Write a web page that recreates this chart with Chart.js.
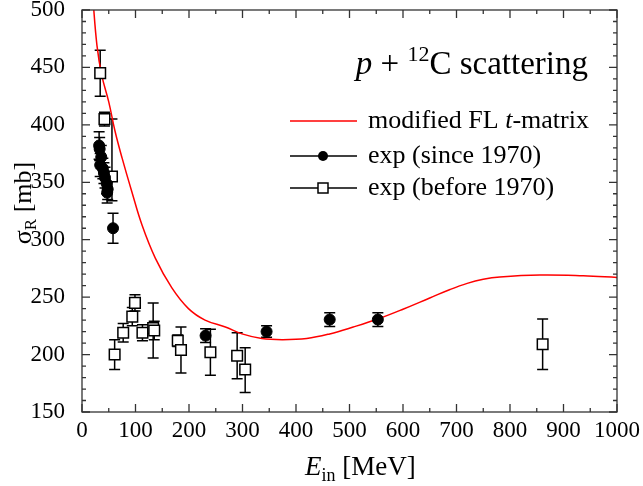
<!DOCTYPE html>
<html lang="en">
<head>
<meta charset="UTF-8">
<title>p + 12C reaction cross section</title>
<script src="https://cdn.jsdelivr.net/npm/chart.js"></script>
<style>
  html, body { margin: 0; padding: 0; background: #fff; }
</style>
</head>
<body>
<canvas id="myChart" width="643" height="486"></canvas>
<script>
// modified FL t-matrix curve (E in MeV, sigma_R in mb)
const curveE     = [20, 28, 37, 50, 62, 75, 93, 112, 137, 168, 199, 230, 268, 299, 336, 374, 420, 463, 507, 553, 600, 650, 688, 720, 750, 781, 856, 937, 1000];
const curveSigma = [512, 469, 443, 420, 394, 371, 342, 313, 284, 258, 240, 230, 224, 218, 214, 213, 214, 218, 224, 231, 239.5, 249.3, 256.7, 262, 265.5, 267.5, 269.2, 268.6, 267.2];

// exp (since 1970)
const newE     = [32, 33, 36, 34, 39, 41, 43, 46, 48, 47, 58, 231, 345, 463, 553];
const newSigma = [382, 379, 372, 365, 362, 358, 354, 349, 344, 341, 310, 216.5, 220, 230.5, 230.5];
const newErr   = [12, 10, 10, 10, 9, 9, 9, 9, 9, 9, 13, 6, 5, 6, 6];

// exp (before 1970)
const oldE     = [34, 42, 56, 61, 77, 94, 99, 113, 133, 135, 179, 185, 240, 290, 305, 861];
const oldSigma = [445, 405, 355, 200, 219, 233, 245, 219, 223, 221, 212, 204, 202, 199, 187, 209];
const oldErrLo = [20, 6, 21, 13, 8, 8, 7, 7, 26, 8, 5, 20, 20, 20, 20, 22];
const oldErrHi = [20, 6, 50, 13, 8, 8, 7, 7, 22, 8, 5, 20, 20, 20, 19, 22];

const xTicks = [0, 100, 200, 300, 400, 500, 600, 700, 800, 900, 1000];
const yTicks = [150, 200, 250, 300, 350, 400, 450, 500];

const serif = "'Liberation Serif', 'Times New Roman', serif";

function pts(xs, ys) {
    return xs.map((x, i) => ({ x: x, y: ys[i] }));
}

const errorBars = {
    id: 'errorBars',
    beforeDatasetsDraw(chart) {
        const ctx = chart.ctx;
        const xs = chart.scales.x, ys = chart.scales.y;
        ctx.save();
        ctx.strokeStyle = '#000';
        ctx.lineWidth = 1.5;
        function bar(e, s, lo, hi) {
            const x = xs.getPixelForValue(e);
            const y1 = ys.getPixelForValue(s - lo);
            const y2 = ys.getPixelForValue(s + hi);
            ctx.beginPath();
            ctx.moveTo(x, y1); ctx.lineTo(x, y2);
            ctx.moveTo(x - 5.5, y1); ctx.lineTo(x + 5.5, y1);
            ctx.moveTo(x - 5.5, y2); ctx.lineTo(x + 5.5, y2);
            ctx.stroke();
        }
        newE.forEach((e, i) => bar(e, newSigma[i], newErr[i], newErr[i]));
        oldE.forEach((e, i) => bar(e, oldSigma[i], oldErrLo[i], oldErrHi[i]));
        ctx.restore();
    }
};

const frame = {
    id: 'frame',
    afterDraw(chart) {
        const ctx = chart.ctx;
        const a = chart.chartArea;
        const xs = chart.scales.x, ys = chart.scales.y;
        ctx.save();
        ctx.strokeStyle = '#333';
        ctx.lineWidth = 1.3;
        ctx.strokeRect(a.left, a.top, a.right - a.left, a.bottom - a.top);

        // inward ticks on all four sides
        ctx.beginPath();
        for (let v = 0; v <= 1000; v += 50) {
            const len = v % 100 === 0 ? 8 : 4;
            const x = xs.getPixelForValue(v);
            ctx.moveTo(x, a.bottom); ctx.lineTo(x, a.bottom - len);
            ctx.moveTo(x, a.top); ctx.lineTo(x, a.top + len);
        }
        for (let v = 150; v <= 500; v += 10) {
            const len = v % 50 === 0 ? 8 : 4;
            const y = ys.getPixelForValue(v);
            ctx.moveTo(a.left, y); ctx.lineTo(a.left + len, y);
            ctx.moveTo(a.right, y); ctx.lineTo(a.right - len, y);
        }
        ctx.stroke();

        ctx.fillStyle = '#000';
        ctx.textBaseline = 'alphabetic';

        // x axis title: E_in [MeV]
        ctx.font = 'italic 27px ' + serif;
        const wE = ctx.measureText('E').width;
        ctx.font = '18px ' + serif;
        const wIn = ctx.measureText('in').width;
        let x0 = 305;
        const yb = 475;
        ctx.font = 'italic 27px ' + serif;
        ctx.fillText('E', x0, yb);
        ctx.font = '18px ' + serif;
        ctx.fillText('in', x0 + wE, yb + 6);
        ctx.font = '27px ' + serif;
        ctx.fillText(' [MeV]', x0 + wE + wIn, yb);

        // y axis title: sigma_R [mb]
        ctx.save();
        ctx.translate(31, 203);
        ctx.rotate(-Math.PI / 2);
        ctx.font = '26px ' + serif;
        const wS = ctx.measureText('σ').width;
        ctx.font = '17px ' + serif;
        const wR = ctx.measureText('R').width;
        ctx.font = '26px ' + serif;
        const wMb = ctx.measureText(' [mb]').width;
        let t0 = -(wS + wR + wMb) / 2;
        ctx.fillText('σ', t0, 0);
        ctx.font = '17px ' + serif;
        ctx.fillText('R', t0 + wS, 5);
        ctx.font = '26px ' + serif;
        ctx.fillText(' [mb]', t0 + wS + wR, 0);
        ctx.restore();

        // title: p + 12C scattering
        const parts = [
            ['italic 33px ' + serif, 'p', 0],
            ['33px ' + serif, ' + ', 0],
            ['22px ' + serif, '12', -13],
            ['33px ' + serif, 'C scattering', 0]
        ];
        let tw = 0;
        parts.forEach(p => { ctx.font = p[0]; tw += ctx.measureText(p[1]).width; });
        let tx = 588 - tw;
        parts.forEach(p => {
            ctx.font = p[0];
            ctx.fillText(p[1], tx, 74 + p[2]);
            tx += ctx.measureText(p[1]).width;
        });

        // legend
        const lx1 = 290, lx2 = 357, mx = 323, textX = 368;
        const rows = [121, 156, 188];
        ctx.lineWidth = 1.5;
        ctx.textBaseline = 'middle';

        ctx.strokeStyle = '#ff0000';
        ctx.beginPath(); ctx.moveTo(lx1, rows[0]); ctx.lineTo(lx2, rows[0]); ctx.stroke();
        ctx.font = '26px ' + serif;
        ctx.fillText('modified FL ', textX, rows[0]);
        let w = ctx.measureText('modified FL ').width;
        ctx.font = 'italic 26px ' + serif;
        ctx.fillText('t', textX + w, rows[0]);
        w += ctx.measureText('t').width;
        ctx.font = '26px ' + serif;
        ctx.fillText('-matrix', textX + w, rows[0]);

        ctx.strokeStyle = '#000';
        ctx.beginPath(); ctx.moveTo(lx1, rows[1]); ctx.lineTo(lx2, rows[1]); ctx.stroke();
        ctx.beginPath(); ctx.arc(mx, rows[1], 5, 0, Math.PI * 2); ctx.fill();
        ctx.fillText('exp (since 1970)', textX, rows[1]);

        ctx.beginPath(); ctx.moveTo(lx1, rows[2]); ctx.lineTo(lx2, rows[2]); ctx.stroke();
        ctx.fillStyle = '#fff';
        ctx.fillRect(mx - 5, rows[2] - 5, 10, 10);
        ctx.strokeRect(mx - 5, rows[2] - 5, 10, 10);
        ctx.fillStyle = '#000';
        ctx.fillText('exp (before 1970)', textX, rows[2]);

        ctx.restore();
    }
};

const ctx = document.getElementById('myChart').getContext('2d');
new Chart(ctx, {
    type: 'scatter',
    data: {
        datasets: [
            {
                label: 'exp (before 1970)',
                data: pts(oldE, oldSigma),
                pointStyle: 'rect',
                pointRadius: 7.5,
                backgroundColor: '#fff',
                borderColor: '#000',
                borderWidth: 1.5,
                order: 1
            },
            {
                label: 'exp (since 1970)',
                data: pts(newE, newSigma),
                pointStyle: 'circle',
                pointRadius: 5.5,
                backgroundColor: '#000',
                borderColor: '#000',
                borderWidth: 1,
                order: 0
            },
            {
                label: 'modified FL t-matrix',
                data: pts(curveE, curveSigma),
                showLine: true,
                borderColor: '#ff0000',
                borderWidth: 1.5,
                pointRadius: 0,
                tension: 0.4,
                order: 2
            }
        ]
    },
    options: {
        responsive: false,
        animation: false,
        layout: { padding: { top: 10, right: 26, left: 0, bottom: 0 } },
        plugins: { legend: { display: false }, tooltip: { enabled: false } },
        scales: {
            x: {
                type: 'linear',
                min: 0, max: 1000,
                grid: { display: false },
                border: { display: false },
                afterBuildTicks: s => { s.ticks = xTicks.map(v => ({ value: v })); },
                afterFit: s => { s.height = 74; s.paddingLeft = 0; s.paddingRight = 0; },
                ticks: {
                    color: '#000', padding: -3, maxRotation: 0, autoSkip: false,
                    callback: v => String(v),
                    font: { family: serif, size: 23 }
                }
            },
            y: {
                type: 'linear',
                min: 150, max: 500,
                grid: { display: false },
                border: { display: false },
                afterBuildTicks: s => { s.ticks = yTicks.map(v => ({ value: v })); },
                afterFit: s => { s.width = 82; s.paddingTop = 0; s.paddingBottom = 0; },
                ticks: {
                    color: '#000', padding: 9, autoSkip: false,
                    callback: v => String(v),
                    font: { family: serif, size: 23 }
                }
            }
        }
    },
    plugins: [errorBars, frame]
});
</script>
</body>
</html>
